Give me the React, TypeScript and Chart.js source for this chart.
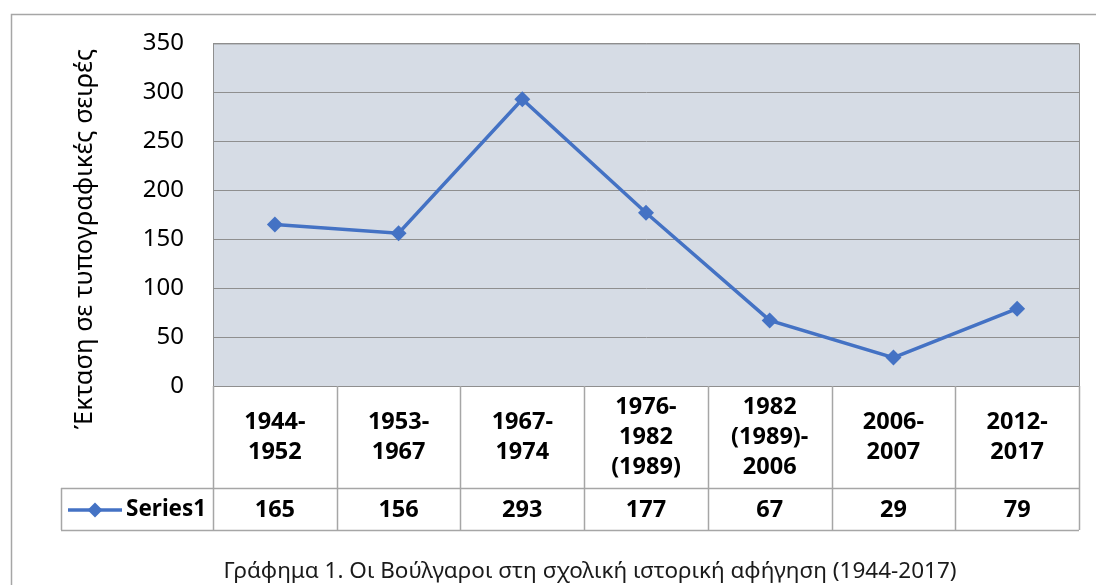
import React, { useEffect, useRef } from "react";
import { Chart, registerables } from "chart.js";

Chart.register(...registerables);

const categories: string[][] = [
  ["1944-", "1952"],
  ["1953-", "1967"],
  ["1967-", "1974"],
  ["1976-", "1982", "(1989)"],
  ["1982", "(1989)-", "2006"],
  ["2006-", "2007"],
  ["2012-", "2017"],
];
const seriesName = "Series1";
const seriesValues: number[] = [165, 156, 293, 177, 67, 29, 79];
const yMin = 0;
const yMax = 350;
const yStep = 50;
const yTitle = "Έκταση σε τυπογραφικές σειρές";
const caption = "Γράφημα 1. Οι Βούλγαροι στη σχολική ιστορική αφήγηση (1944-2017)";

const FONT = "'Noto Sans', 'Open Sans', sans-serif";
const LINE_COLOR = "#4472C4";
const PLOT_BG = "#D6DCE5";
const GRID = "#8f8f8f";
const TABLE_LINE = "#a6a6a6";

const decorPlugin = {
  id: "decor",
  beforeDraw(chart: any) {
    const { ctx, chartArea } = chart;
    ctx.save();
    ctx.fillStyle = "#ffffff";
    ctx.fillRect(0, 0, chart.width, chart.height);
    ctx.strokeStyle = TABLE_LINE;
    ctx.lineWidth = 1.5;
    ctx.strokeRect(11.5, 14.5, chart.width + 20, chart.height + 20);
    ctx.fillStyle = PLOT_BG;
    ctx.fillRect(chartArea.left, chartArea.top, chartArea.right - chartArea.left, chartArea.bottom - chartArea.top);
    ctx.restore();
  },
  afterDraw(chart: any) {
    const { ctx, chartArea } = chart;
    const xs = chart.scales.x;
    const n = categories.length;
    const cellW = (chartArea.right - chartArea.left) / n;
    const rowTop = chartArea.bottom;
    const rowMid = 488;
    const rowBot = 530;
    const legendLeft = 61;
    ctx.save();
    ctx.strokeStyle = GRID;
    ctx.lineWidth = 1;
    ctx.strokeRect(chartArea.left + 0.5, chartArea.top + 0.5, chartArea.right - chartArea.left, chartArea.bottom - chartArea.top);
    ctx.strokeStyle = TABLE_LINE;
    ctx.lineWidth = 1.5;
    ctx.beginPath();
    for (let i = 0; i <= n; i++) {
      const x = Math.round(chartArea.left + i * cellW) + 0.5;
      ctx.moveTo(x, rowTop);
      ctx.lineTo(x, rowBot);
    }
    ctx.moveTo(legendLeft + 0.5, rowMid);
    ctx.lineTo(legendLeft + 0.5, rowBot);
    ctx.moveTo(legendLeft, rowMid + 0.5);
    ctx.lineTo(chartArea.right, rowMid + 0.5);
    ctx.moveTo(legendLeft, rowBot + 0.5);
    ctx.lineTo(chartArea.right, rowBot + 0.5);
    ctx.stroke();

    ctx.fillStyle = "#000000";
    ctx.textAlign = "center";
    ctx.textBaseline = "middle";
    ctx.font = `bold 23.5px ${FONT}`;
    const lh = 30;
    const catMid = (rowTop + rowMid) / 2;
    categories.forEach((lines, i) => {
      const cx = xs.getPixelForValue(i);
      const start = catMid - ((lines.length - 1) * lh) / 2;
      lines.forEach((t, j) => ctx.fillText(t, cx, start + j * lh));
    });
    const valMid = (rowMid + rowBot) / 2 + 1;
    seriesValues.forEach((v, i) => {
      ctx.fillText(String(v), xs.getPixelForValue(i), valMid);
    });
    ctx.strokeStyle = LINE_COLOR;
    ctx.lineWidth = 3.5;
    ctx.beginPath();
    ctx.moveTo(68, valMid);
    ctx.lineTo(122, valMid);
    ctx.stroke();
    ctx.fillStyle = LINE_COLOR;
    ctx.beginPath();
    const dx = 95, r = 7.5;
    ctx.moveTo(dx, valMid - r);
    ctx.lineTo(dx + r, valMid);
    ctx.lineTo(dx, valMid + r);
    ctx.lineTo(dx - r, valMid);
    ctx.closePath();
    ctx.fill();
    ctx.fillStyle = "#000000";
    ctx.textAlign = "left";
    ctx.font = `bold 22.5px ${FONT}`;
    ctx.fillText(seriesName, 126, valMid);

    ctx.save();
    ctx.translate(85, 239);
    ctx.rotate(-Math.PI / 2);
    ctx.font = `25.5px ${FONT}`;
    ctx.textAlign = "center";
    ctx.textBaseline = "middle";
    ctx.fillText(yTitle, 0, 0);
    ctx.restore();

    ctx.font = `22.5px ${FONT}`;
    ctx.textAlign = "center";
    ctx.textBaseline = "middle";
    ctx.fillStyle = "#1a1a1a";
    ctx.fillText(caption, 590, 572);
    ctx.restore();
  },
};

export default function App() {
  const ref = useRef<HTMLCanvasElement | null>(null);
  useEffect(() => {
    if (!ref.current) return;
    const chart = new Chart(ref.current, {
      type: "line",
      data: {
        labels: categories,
        datasets: [
          {
            label: seriesName,
            data: seriesValues,
            borderColor: LINE_COLOR,
            backgroundColor: LINE_COLOR,
            borderWidth: 3.5,
            pointStyle: "rectRot",
            pointRadius: 8,
            pointBorderWidth: 0,
            pointBackgroundColor: LINE_COLOR,
            tension: 0,
          },
        ],
      },
      options: {
        responsive: false,
        animation: false,
        devicePixelRatio: 1,
        layout: { padding: { left: 0, top: 41, right: 17, bottom: 199 } },
        plugins: { legend: { display: false }, tooltip: { enabled: false }, title: { display: false } },
        scales: {
          x: { type: "category", display: false, offset: true },
          y: {
            min: yMin,
            max: yMax,
            ticks: {
              stepSize: yStep,
              padding: 29,
              color: "#000000",
              font: { family: FONT, size: 24 },
            },
            grid: { color: GRID, lineWidth: 1, drawTicks: false },
            border: { display: true, color: GRID },
            afterFit: (scale: any) => {
              scale.width = 213;
            },
          },
        },
      },
      plugins: [decorPlugin],
    });
    return () => chart.destroy();
  }, []);
  return (
    <div style={{ position: "fixed", left: 0, top: 0, width: 1096, height: 585 }}>
      <canvas ref={ref} width={1096} height={585} style={{ display: "block" }} />
    </div>
  );
}
